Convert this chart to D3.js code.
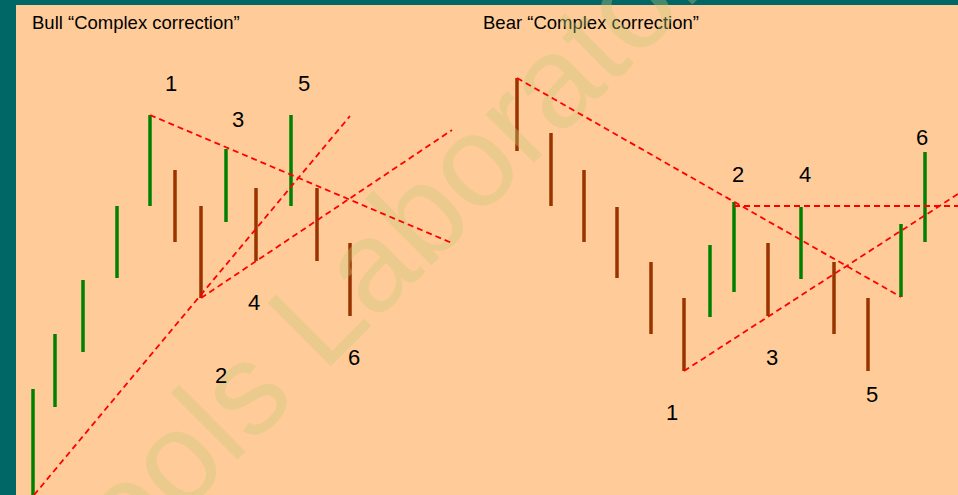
<!DOCTYPE html>
<html>
<head>
<meta charset="utf-8">
<script src="https://cdn.jsdelivr.net/npm/d3@7"></script>
<style>
  html, body { margin: 0; padding: 0; background: #006666; }
  svg { display: block; }
</style>
</head>
<body>
<script>
// ---------------------- DATA ----------------------
// units: x = time, y = price (both 5px per unit on screen)

const titles = ["Bull \u201cComplex correction\u201d", "Bear \u201cComplex correction\u201d"];
const titleX = [6.4, 96.6];

// bull side
const bullX    = [6.6, 11, 16.6, 23.4, 30, 35, 40.2, 45.2, 51.2, 58.2, 63.4, 70];
const bullHigh = [21.2, 32.2, 43, 57.8, 76, 65, 57.8, 69.2, 61.4, 76, 61.4, 50.4];
const bullLow  = [-2, 17.6, 28.6, 43.4, 57.8, 50.6, 39.4, 54.6, 46.8, 57.8, 46.8, 35.8];
const bullDir  = ["up", "up", "up", "up", "up", "down", "down", "up", "down", "up", "down", "down"];

// bear side
const bearX    = [103.4, 110.2, 116.8, 123.4, 130.2, 136.8, 142, 146.8, 153.6, 160.2, 166.8, 173.6, 180.2, 185];
const bearHigh = [83.4, 72.4, 65, 57.6, 46.6, 39.4, 50, 58.6, 50.4, 57.6, 46.6, 39.4, 54.2, 68.6];
const bearLow  = [68.8, 57.8, 50.6, 43.4, 32.2, 24.8, 35.6, 40.6, 35.8, 43.2, 32.2, 24.8, 39.6, 50.6];
const bearDir  = ["down", "down", "down", "down", "down", "down", "up", "up", "down", "up", "down", "down", "up", "up"];

// trend lines [x1, y1, x2, y2]
const trendLines = [
    [30, 76, 90.4, 50.4],
    [6.8, 0, 70, 75.8],
    [40.2, 39.4, 90.4, 73],
    [103.4, 83.4, 180.2, 39.6],
    [146.8, 57.8, 191.6, 57.8],
    [136.8, 24.8, 191.6, 60.2]
];

// wave labels
const labelText = ["1", "3", "5", "4", "2", "6", "2", "4", "6", "1", "3", "5"];
const labelX    = [34.2, 47.6, 60.8, 50.8, 44.2, 70.8, 147.6, 161, 184.4, 134.4, 154.4, 174.4];
const labelY    = [80.8, 73.6, 80.8, 37, 22.4, 26, 62.6, 62.6, 70, 15, 26, 18.6];

// ---------------------- RENDER ----------------------
const width = 958, height = 495;
const font = "Arial, 'Liberation Sans', sans-serif";

const x = d3.scaleLinear().domain([0, 191.6]).range([0, width]);
const y = d3.scaleLinear().domain([0, 99]).range([height, 0]);

const svg = d3.select("body").append("svg")
    .attr("width", width)
    .attr("height", height);

// frame: teal border on left and top, peach panel
svg.append("rect").attr("width", width).attr("height", height).attr("fill", "#006666");
svg.append("rect")
    .attr("x", 16).attr("y", 5)
    .attr("width", width - 16).attr("height", height - 5)
    .attr("fill", "#FFCC99");

// titles
svg.selectAll(".title")
    .data(titles)
    .join("text")
    .attr("class", "title")
    .attr("x", (d, i) => x(titleX[i]))
    .attr("y", 29)
    .attr("font-family", font)
    .attr("font-size", 18.5)
    .attr("fill", "#000")
    .text(d => d);

const barColor = d => d === "up" ? "#008000" : "#993300";

function drawBars(xs, highs, lows, dirs) {
    svg.append("g")
        .selectAll("line")
        .data(xs)
        .join("line")
        .attr("x1", d => x(d))
        .attr("x2", d => x(d))
        .attr("y1", (d, i) => y(highs[i]))
        .attr("y2", (d, i) => y(lows[i]))
        .attr("stroke", (d, i) => barColor(dirs[i]))
        .attr("stroke-width", 3.5);
}

drawBars(bullX, bullHigh, bullLow, bullDir);
drawBars(bearX, bearHigh, bearLow, bearDir);

// watermark, semi transparent over the bars
svg.append("text")
    .attr("transform", "translate(83,614) rotate(-45)")
    .attr("font-family", font)
    .attr("font-size", 130)
    .attr("fill", "rgb(200,200,120)")
    .attr("fill-opacity", 0.36)
    .text("Tools Laboratory");

// dashed trend lines
svg.append("g")
    .selectAll("line")
    .data(trendLines)
    .join("line")
    .attr("x1", d => x(d[0]))
    .attr("y1", d => y(d[1]))
    .attr("x2", d => x(d[2]))
    .attr("y2", d => y(d[3]))
    .attr("stroke", "#FF0000")
    .attr("stroke-width", 1.8)
    .attr("stroke-dasharray", "6,4");

// wave numbers
svg.append("g")
    .selectAll("text")
    .data(labelText)
    .join("text")
    .attr("x", (d, i) => x(labelX[i]))
    .attr("y", (d, i) => y(labelY[i]))
    .attr("text-anchor", "middle")
    .attr("font-family", font)
    .attr("font-size", 22)
    .attr("fill", "#000")
    .text(d => d);
</script>
</body>
</html>
